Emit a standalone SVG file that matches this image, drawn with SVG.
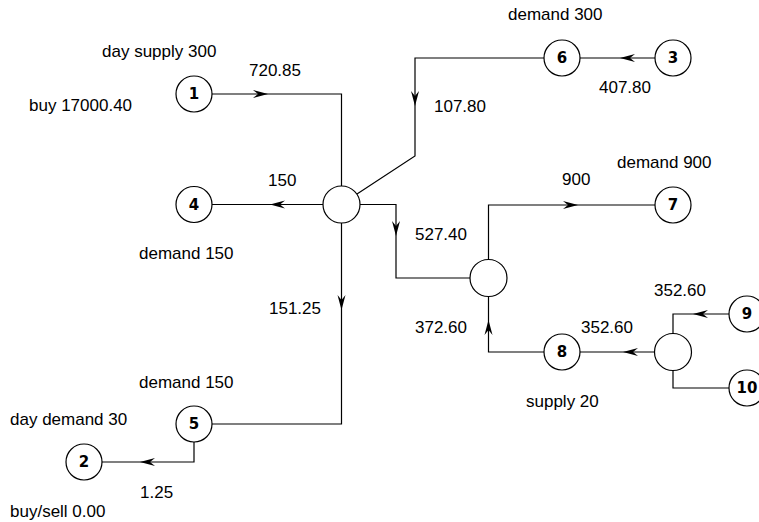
<svg xmlns="http://www.w3.org/2000/svg" width="759" height="522" viewBox="0 0 759 522">
<style>
.n circle{fill:#fff;stroke:#000;stroke-width:1.2}
.n text{font-family:"DejaVu Sans",sans-serif;font-weight:bold;font-size:15px;text-anchor:middle;dominant-baseline:central}
.e{fill:none;stroke:#000;stroke-width:1.2}
.l{font-family:"Liberation Sans",Arial,sans-serif;font-size:17px;fill:#000}
</style>
<defs>
<path id="ah" d="M0,0 L-15,-4 L-10,0 L-15,4 Z" fill="#000"/>
</defs>
<rect width="759" height="522" fill="#fff"/>
<g id="connectors">
<path class="e" d="M212,94 H341.5 V186"/>
<use href="#ah" transform="translate(268,94)"/>
<path class="e" d="M323,204.5 H212"/>
<use href="#ah" transform="translate(270,204.5) rotate(180)"/>
<path class="e" d="M544,58 H415 V156 L357,194"/>
<use href="#ah" transform="translate(415,106) rotate(90)"/>
<path class="e" d="M655,58 H580"/>
<use href="#ah" transform="translate(620,58) rotate(180)"/>
<path class="e" d="M360,204.5 H396 V278 H470"/>
<use href="#ah" transform="translate(396,236) rotate(90)"/>
<path class="e" d="M488.5,259.5 V205 H655"/>
<use href="#ah" transform="translate(578,205)"/>
<path class="e" d="M544,352 H488.5 V296.5"/>
<use href="#ah" transform="translate(488.5,320) rotate(-90)"/>
<path class="e" d="M654.5,352 H580"/>
<use href="#ah" transform="translate(623,352) rotate(180)"/>
<path class="e" d="M729,314 H673 V333.5"/>
<use href="#ah" transform="translate(693,314) rotate(180)"/>
<path class="e" d="M729,388 H673 V370.5"/>
<path class="e" d="M341.5,223 V424 H212"/>
<use href="#ah" transform="translate(341.5,310) rotate(90)"/>
<path class="e" d="M194,442 V462 H102"/>
<use href="#ah" transform="translate(140,462) rotate(180)"/>
</g>
<g id="node1" class="n"><circle cx="194" cy="94" r="18"/><text x="194" y="94">1</text></g>
<g id="node2" class="n"><circle cx="84" cy="462" r="18"/><text x="84" y="462">2</text></g>
<g id="node3" class="n"><circle cx="673" cy="58" r="18"/><text x="673" y="58">3</text></g>
<g id="node4" class="n"><circle cx="194" cy="204.5" r="18"/><text x="194" y="204.5">4</text></g>
<g id="node5" class="n"><circle cx="194" cy="424" r="18"/><text x="194" y="424">5</text></g>
<g id="node6" class="n"><circle cx="562" cy="58" r="18"/><text x="562" y="58">6</text></g>
<g id="node7" class="n"><circle cx="673" cy="205" r="18"/><text x="673" y="205">7</text></g>
<g id="node8" class="n"><circle cx="562" cy="352" r="18"/><text x="562" y="352">8</text></g>
<g id="node9" class="n"><circle cx="747" cy="314" r="18"/><text x="747" y="314">9</text></g>
<g id="node10" class="n"><circle cx="747" cy="388" r="18"/><text x="747" y="388">10</text></g>
<g id="junctionA" class="n"><circle cx="341.5" cy="204.5" r="18.5"/></g>
<g id="junctionB" class="n"><circle cx="488.5" cy="278" r="18.5"/></g>
<g id="junctionC" class="n"><circle cx="673" cy="352" r="18.5"/></g>
<g id="labels">
<text class="l" x="102" y="57">day supply 300</text>
<text class="l" x="249" y="76">720.85</text>
<text class="l" x="29" y="111">buy 17000.40</text>
<text class="l" x="268" y="186">150</text>
<text class="l" x="139" y="259">demand 150</text>
<text class="l" x="508" y="20">demand 300</text>
<text class="l" x="599" y="93">407.80</text>
<text class="l" x="434" y="112">107.80</text>
<text class="l" x="617" y="168">demand 900</text>
<text class="l" x="562" y="185">900</text>
<text class="l" x="415" y="240">527.40</text>
<text class="l" x="269" y="314">151.25</text>
<text class="l" x="139" y="388">demand 150</text>
<text class="l" x="10" y="425">day demand 30</text>
<text class="l" x="140" y="498">1.25</text>
<text class="l" x="10" y="517">buy/sell 0.00</text>
<text class="l" x="415" y="333">372.60</text>
<text class="l" x="581" y="333">352.60</text>
<text class="l" x="654" y="296">352.60</text>
<text class="l" x="526" y="407">supply 20</text>
</g>
</svg>
